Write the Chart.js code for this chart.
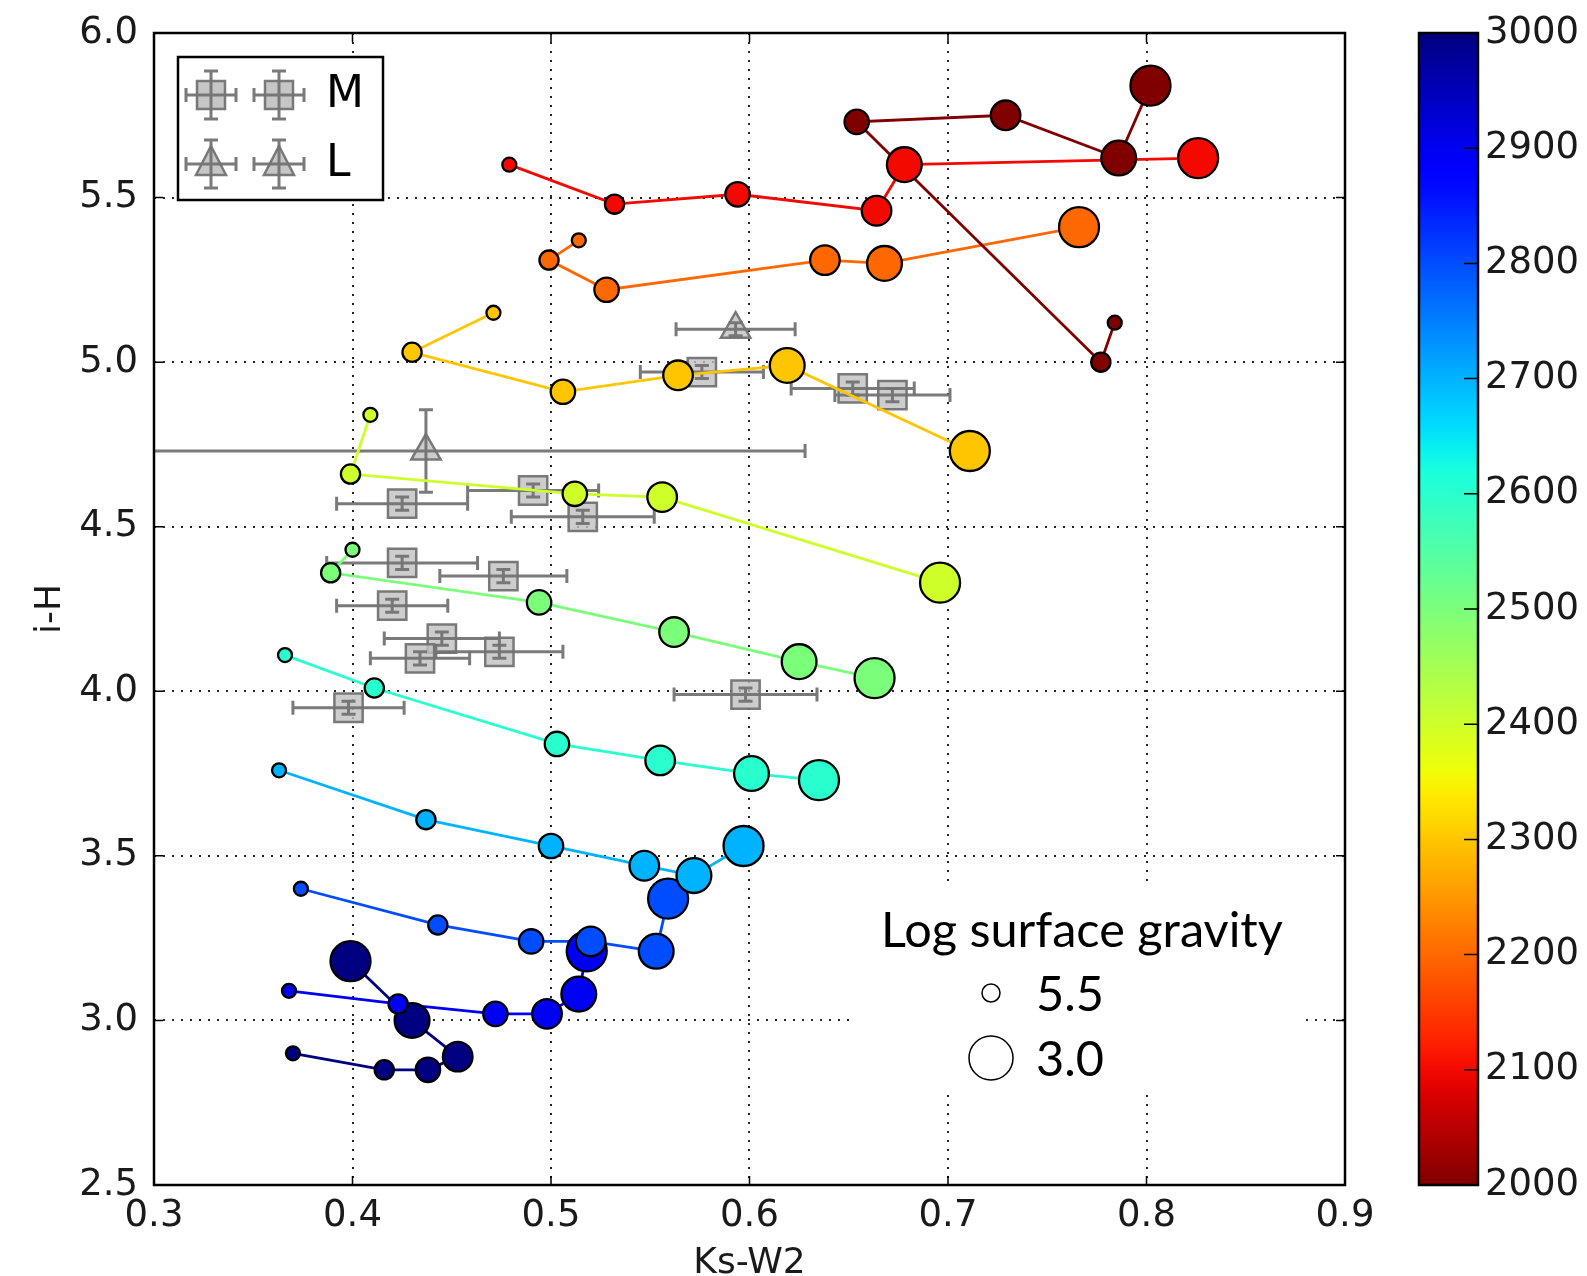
<!DOCTYPE html>
<html>
<head>
<meta charset="utf-8">
<script src="https://cdn.jsdelivr.net/npm/chart.js@4.4.1/dist/chart.umd.min.js"></script>
<style>
  html, body { margin: 0; padding: 0; background: #fff; }
  canvas { display: block; }
</style>
</head>
<body>
<canvas id="chart" width="1587" height="1276"></canvas>
<script>
// Model tracks, one per Teff (K). Points run from log g 5.5 (small) to 3.0 (big)
const teffs = [2000, 2100, 2200, 2300, 2400, 2500, 2600, 2700, 2800, 2900, 3000];
const loggFull = [5.5, 5.0, 4.5, 4.0, 3.5, 3.0];
const logg2400 = [5.5, 5.0, 4.5, 4.0, 3.0];

const ksw2_2000 = [0.784, 0.777, 0.654, 0.729, 0.786, 0.802];
const ih_2000   = [5.12, 5.00, 5.73, 5.75, 5.62, 5.84];
const ksw2_2100 = [0.479, 0.532, 0.594, 0.664, 0.678, 0.826];
const ih_2100   = [5.60, 5.48, 5.51, 5.46, 5.60, 5.62];
const ksw2_2200 = [0.514, 0.499, 0.528, 0.638, 0.668, 0.766];
const ih_2200   = [5.37, 5.31, 5.22, 5.31, 5.30, 5.41];
const ksw2_2300 = [0.471, 0.430, 0.506, 0.564, 0.619, 0.711];
const ih_2300   = [5.15, 5.03, 4.91, 4.96, 4.99, 4.73];
const ksw2_2400 = [0.409, 0.399, 0.512, 0.556, 0.696];
const ih_2400   = [4.84, 4.66, 4.60, 4.59, 4.33];
const ksw2_2500 = [0.400, 0.389, 0.494, 0.562, 0.625, 0.663];
const ih_2500   = [4.43, 4.36, 4.27, 4.18, 4.09, 4.04];
const ksw2_2600 = [0.366, 0.411, 0.503, 0.555, 0.601, 0.635];
const ih_2600   = [4.11, 4.01, 3.84, 3.79, 3.75, 3.73];
const ksw2_2700 = [0.363, 0.437, 0.500, 0.547, 0.572, 0.597];
const ih_2700   = [3.76, 3.61, 3.53, 3.47, 3.44, 3.53];
const ksw2_2800 = [0.374, 0.443, 0.490, 0.520, 0.553, 0.559];
const ih_2800   = [3.40, 3.29, 3.24, 3.24, 3.21, 3.37];
const ksw2_2900 = [0.368, 0.423, 0.472, 0.498, 0.514, 0.518];
const ih_2900   = [3.09, 3.05, 3.02, 3.02, 3.08, 3.21];
const ksw2_3000 = [0.370, 0.416, 0.438, 0.453, 0.430, 0.399];
const ih_3000   = [2.90, 2.85, 2.85, 2.89, 3.00, 3.18];

const modelKsW2 = [ksw2_2000, ksw2_2100, ksw2_2200, ksw2_2300, ksw2_2400, ksw2_2500,
                   ksw2_2600, ksw2_2700, ksw2_2800, ksw2_2900, ksw2_3000];
const modelIH = [ih_2000, ih_2100, ih_2200, ih_2300, ih_2400, ih_2500,
                 ih_2600, ih_2700, ih_2800, ih_2900, ih_3000];
const modelLogg = teffs.map(t => t === 2400 ? logg2400 : loggFull);

// observed M and L dwarfs with errors
const mKsW2 = [0.576, 0.652, 0.672, 0.425, 0.491, 0.516, 0.425, 0.476, 0.420, 0.445, 0.434, 0.474, 0.398, 0.598];
const mIH   = [4.97, 4.92, 4.90, 4.57, 4.61, 4.53, 4.39, 4.35, 4.26, 4.16, 4.10, 4.12, 3.95, 3.99];
const mErrX = [0.031, 0.031, 0.029, 0.033, 0.033, 0.036, 0.038, 0.032, 0.028, 0.029, 0.025, 0.032, 0.028, 0.036];
const mErrY = [0.02, 0.02, 0.02, 0.02, 0.02, 0.02, 0.02, 0.02, 0.02, 0.02, 0.02, 0.02, 0.02, 0.02];
const lKsW2 = [0.593, 0.437];
const lIH   = [5.10, 4.73];
const lErrX = [0.030, 0.191];
const lErrY = [0.02, 0.125];

const xTicks = [0.3, 0.4, 0.5, 0.6, 0.7, 0.8, 0.9];
const yTicks = [2.5, 3.0, 3.5, 4.0, 4.5, 5.0, 5.5, 6.0];
const cbarTicks = [2000, 2100, 2200, 2300, 2400, 2500, 2600, 2700, 2800, 2900, 3000];
const gravityLegend = [5.5, 3.0];

// matplotlib jet, colour for Teff runs reversed (2000 red ... 3000 blue)
const jetR = [[0, 0], [0.35, 0], [0.66, 1], [0.89, 1], [1, 0.5]];
const jetG = [[0, 0], [0.125, 0], [0.375, 1], [0.64, 1], [0.91, 0], [1, 0]];
const jetB = [[0, 0.5], [0.11, 1], [0.34, 1], [0.65, 0], [1, 0]];
function interp(seg, t) {
  for (let i = 1; i < seg.length; i++) {
    if (t <= seg[i][0]) {
      const a = seg[i - 1], b = seg[i];
      return a[1] + (b[1] - a[1]) * (t - a[0]) / (b[0] - a[0]);
    }
  }
  return seg[seg.length - 1][1];
}
function jet(t) {
  const r = Math.round(255 * interp(jetR, t));
  const g = Math.round(255 * interp(jetG, t));
  const b = Math.round(255 * interp(jetB, t));
  return `rgb(${r},${g},${b})`;
}
function teffColor(teff) { return jet((3000 - teff) / 1000); }
function gravRadius(g) { return 7 + (5.5 - g) * 5.2; }

const FONT = "'DejaVu Sans', sans-serif";
const GREY_EDGE = 'rgba(115,115,115,0.95)';

const datasets = [];
// lines first (drawn under every marker)
teffs.forEach((t, i) => {
  datasets.push({
    data: modelKsW2[i].map((x, j) => ({ x: x, y: modelIH[i][j] })),
    showLine: true,
    borderColor: teffColor(t),
    borderWidth: 2.8,
    pointRadius: 0,
    order: 100 + i
  });
});
// markers, cooler models drawn on top
teffs.forEach((t, i) => {
  datasets.push({
    data: modelKsW2[i].map((x, j) => ({ x: x, y: modelIH[i][j] })),
    showLine: false,
    backgroundColor: teffColor(t),
    borderColor: '#000',
    borderWidth: 2.3,
    pointRadius: ctx => gravRadius(modelLogg[i][ctx.dataIndex]),
    order: i
  });
});
datasets.push({
  data: mKsW2.map((x, j) => ({ x: x, y: mIH[j] })),
  errX: mErrX, errY: mErrY,
  pointStyle: 'rect',
  pointRadius: 20,
  backgroundColor: 'rgba(192,192,192,0.8)',
  borderColor: GREY_EDGE,
  borderWidth: 2.5,
  order: 300
});
datasets.push({
  data: lKsW2.map((x, j) => ({ x: x, y: lIH[j] })),
  errX: lErrX, errY: lErrY,
  pointStyle: 'triangle',
  pointRadius: 17,
  backgroundColor: 'rgba(192,192,192,0.8)',
  borderColor: GREY_EDGE,
  borderWidth: 2.5,
  order: 301
});

function drawBars(ctx, x, y, dx, dy, cap) {
  ctx.beginPath();
  ctx.moveTo(x - dx, y); ctx.lineTo(x + dx, y);
  ctx.moveTo(x - dx, y - cap); ctx.lineTo(x - dx, y + cap);
  ctx.moveTo(x + dx, y - cap); ctx.lineTo(x + dx, y + cap);
  ctx.moveTo(x, y - dy); ctx.lineTo(x, y + dy);
  ctx.moveTo(x - cap, y - dy); ctx.lineTo(x + cap, y - dy);
  ctx.moveTo(x - cap, y + dy); ctx.lineTo(x + cap, y + dy);
  ctx.stroke();
}

function drawMarker(ctx, style, x, y) {
  ctx.fillStyle = 'rgba(192,192,192,0.9)';
  ctx.strokeStyle = GREY_EDGE;
  ctx.lineWidth = 2.5;
  ctx.beginPath();
  if (style === 'rect') {
    ctx.rect(x - 14, y - 14, 28, 28);
  } else {
    ctx.moveTo(x, y - 18); ctx.lineTo(x + 15, y + 11); ctx.lineTo(x - 15, y + 11); ctx.closePath();
  }
  ctx.fill(); ctx.stroke();
  ctx.lineWidth = 3;
  drawBars(ctx, x, y, 25, 24, 7);
}

// keep the plot box fixed: no extra room for overflowing tick labels
function noPad(s) {
  s.paddingTop = 0; s.paddingBottom = 0; s.paddingLeft = 0; s.paddingRight = 0;
}

const decorations = {
  id: 'decorations',
  beforeDatasetsDraw(chart) {
    const ctx = chart.ctx;
    // white text box of the gravity key hides the grid under it
    ctx.save();
    ctx.fillStyle = '#fff';
    ctx.fillRect(853, 882, 452, 212);
    ctx.restore();
  },
  afterDatasetDraw(chart, args) {
    const ds = chart.data.datasets[args.index];
    if (!ds.errX) return;
    const ctx = chart.ctx, xs = chart.scales.x, ys = chart.scales.y, a = chart.chartArea;
    ctx.save();
    ctx.beginPath(); ctx.rect(a.left, a.top, a.right - a.left, a.bottom - a.top); ctx.clip();
    ctx.strokeStyle = GREY_EDGE;
    ctx.lineWidth = 3;
    ds.data.forEach((p, i) => {
      const px = xs.getPixelForValue(p.x), py = ys.getPixelForValue(p.y);
      const dx = xs.getPixelForValue(p.x + ds.errX[i]) - px;
      const dy = py - ys.getPixelForValue(p.y + ds.errY[i]);
      drawBars(ctx, px, py, dx, dy, 7);
    });
    ctx.restore();
  },
  afterDraw(chart) {
    const ctx = chart.ctx, a = chart.chartArea, xs = chart.scales.x, ys = chart.scales.y;
    const cb = chart.scales.cb;
    ctx.save();
    // frame and inward ticks
    ctx.strokeStyle = '#000';
    ctx.lineWidth = 2.5;
    ctx.strokeRect(a.left, a.top, a.right - a.left, a.bottom - a.top);
    ctx.lineWidth = 1.5;
    ctx.beginPath();
    xTicks.forEach(v => {
      const px = xs.getPixelForValue(v);
      ctx.moveTo(px, a.top); ctx.lineTo(px, a.top + 9);
      ctx.moveTo(px, a.bottom); ctx.lineTo(px, a.bottom - 9);
    });
    yTicks.forEach(v => {
      const py = ys.getPixelForValue(v);
      ctx.moveTo(a.left, py); ctx.lineTo(a.left + 9, py);
      ctx.moveTo(a.right, py); ctx.lineTo(a.right - 9, py);
    });
    ctx.stroke();

    // M / L key
    ctx.fillStyle = '#fff';
    ctx.fillRect(178, 57, 205, 143);
    ctx.lineWidth = 2.5;
    ctx.strokeStyle = '#000';
    ctx.strokeRect(178, 57, 205, 143);
    drawMarker(ctx, 'rect', 211, 95);
    drawMarker(ctx, 'rect', 279, 95);
    drawMarker(ctx, 'tri', 211, 164);
    drawMarker(ctx, 'tri', 279, 164);
    ctx.fillStyle = '#000';
    ctx.font = `44px ${FONT}`;
    ctx.textAlign = 'left';
    ctx.textBaseline = 'middle';
    ctx.fillText('M', 326, 96);
    ctx.fillText('L', 326, 165);

    // log g key
    ctx.font = "46px Lato, 'Open Sans', sans-serif";
    let w = ctx.measureText('Log surface gravity').width;
    const size = 46 * 402 / w;
    ctx.font = `${size}px Lato, 'Open Sans', sans-serif`;
    ctx.textBaseline = 'alphabetic';
    ctx.fillText('Log surface gravity', 881, 947);
    const keyY = [993, 1058];
    gravityLegend.forEach((g, i) => {
      ctx.beginPath();
      ctx.arc(991, keyY[i], gravRadius(g) + 2, 0, Math.PI * 2);
      ctx.fillStyle = '#fff';
      ctx.fill();
      ctx.lineWidth = 1.5;
      ctx.strokeStyle = '#000';
      ctx.stroke();
      ctx.fillStyle = '#000';
      ctx.fillText(g.toFixed(1), 1036, keyY[i] + 18);
    });

    // colour bar
    const cx = 1419, cw = 59;
    const top = cb.getPixelForValue(3000), bot = cb.getPixelForValue(2000);
    const grad = ctx.createLinearGradient(0, top, 0, bot);
    for (let k = 0; k <= 50; k++) grad.addColorStop(k / 50, jet(k / 50));
    ctx.fillStyle = grad;
    ctx.fillRect(cx, top, cw, bot - top);
    ctx.strokeStyle = '#000';
    ctx.lineWidth = 2.5;
    ctx.strokeRect(cx, top, cw, bot - top);
    ctx.lineWidth = 1.5;
    ctx.beginPath();
    cbarTicks.forEach(v => {
      const py = cb.getPixelForValue(v);
      ctx.moveTo(cx + cw, py); ctx.lineTo(cx + cw - 14, py);
    });
    ctx.stroke();
    ctx.restore();
  }
};

new Chart(document.getElementById('chart'), {
  type: 'scatter',
  data: { datasets: datasets },
  options: {
    responsive: false,
    animation: false,
    events: [],
    layout: { padding: { left: 0, right: 0, top: 33, bottom: 0 } },
    plugins: { legend: { display: false }, tooltip: { enabled: false } },
    scales: {
      x: {
        type: 'linear', min: 0.3, max: 0.9,
        afterFit: s => { s.height = 91; noPad(s); },
        afterBuildTicks: s => { s.ticks = xTicks.map(v => ({ value: v })); },
        ticks: { callback: v => Number(v).toFixed(1), font: { family: FONT, size: 37 }, color: '#1a1a1a', padding: 9, maxRotation: 0, autoSkip: false },
        grid: { color: 'rgba(0,0,0,0.85)', lineWidth: 2, drawTicks: false },
        border: { display: false, dash: [2, 7] },
        title: { display: true, text: 'Ks-W2', font: { family: FONT, size: 36, lineHeight: 1.0 }, color: '#1a1a1a', padding: { top: 0, bottom: -6 } }
      },
      y: {
        type: 'linear', min: 2.5, max: 6.0,
        afterFit: s => { s.width = 154; noPad(s); },
        afterBuildTicks: s => { s.ticks = yTicks.map(v => ({ value: v })); },
        ticks: { callback: v => Number(v).toFixed(1), font: { family: FONT, size: 37 }, color: '#1a1a1a', padding: 16, autoSkip: false },
        grid: { color: 'rgba(0,0,0,0.85)', lineWidth: 2, drawTicks: false },
        border: { display: false, dash: [2, 7] },
        title: { display: true, text: 'i-H', font: { family: FONT, size: 36 }, color: '#1a1a1a', padding: { top: 29, bottom: 0 } }
      },
      cb: {
        type: 'linear', position: 'right', min: 2000, max: 3000,
        afterFit: s => { s.width = 242; noPad(s); },
        afterBuildTicks: s => { s.ticks = cbarTicks.map(v => ({ value: v })); },
        ticks: { callback: v => String(v), font: { family: FONT, size: 37 }, color: '#1a1a1a', padding: 140, autoSkip: false },
        grid: { display: false, drawTicks: false },
        border: { display: false }
      }
    }
  },
  plugins: [decorations]
});
</script>
</body>
</html>
